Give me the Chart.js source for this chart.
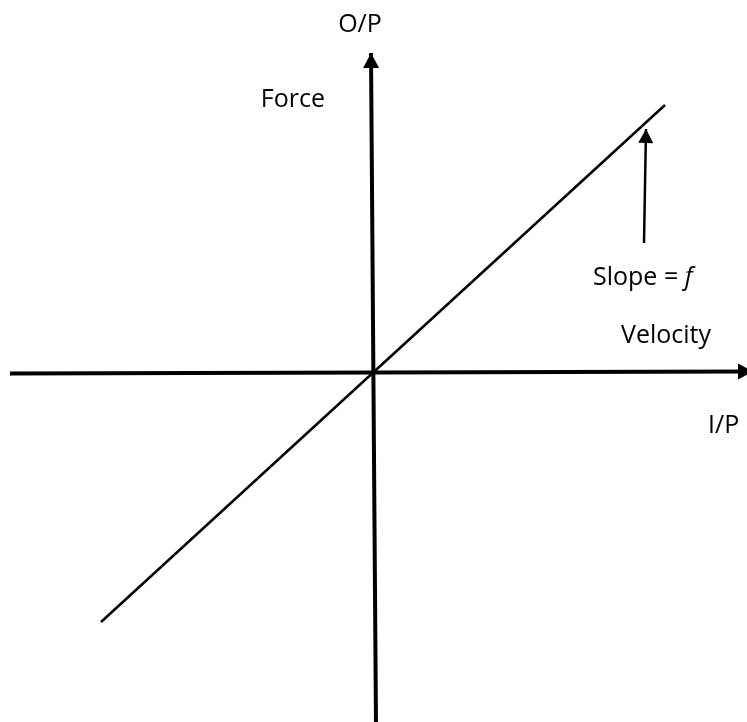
<!DOCTYPE html>
<html>
<head>
<meta charset="utf-8">
<script src="https://cdn.jsdelivr.net/npm/chart.js@4"></script>
<style>
  html, body { margin: 0; padding: 0; background: #ffffff; }
  #wrap { width: 747px; height: 722px; position: relative; }
</style>
</head>
<body>
<div id="wrap"><canvas id="c"></canvas></div>
<script>
// ---- Data (diagram units, origin at the axes crossing) ----
const inputAxisX  = [-363, 380];      // I/P axis (horizontal)
const inputAxisY  = [-0.5, 1.5];
const outputAxisX = [3, -2];          // O/P axis (vertical)
const outputAxisY = [-352, 320];
const velocity    = [-272, 292];      // input (velocity)
const force       = [-249, 268];      // output (force), slope = f
const pointerX    = [271, 273];       // pointer arrow to the line
const pointerY    = [130, 244];

const labelTexts  = ['O/P', 'Force', 'Slope = ', 'f', 'Velocity', 'I/P'];

function pts(xs, ys) { return xs.map((x, i) => ({ x: x, y: ys[i] })); }

const arrowPlugin = {
  id: 'arrowheads',
  afterDatasetsDraw(chart) {
    const ctx = chart.ctx;
    chart.data.datasets.forEach((ds, i) => {
      if (!ds.arrow) return;
      const meta = chart.getDatasetMeta(i);
      const n = meta.data.length;
      const a = meta.data[n - 2], b = meta.data[n - 1];
      const ang = Math.atan2(b.y - a.y, b.x - a.x);
      const L = ds.arrow.len, W = ds.arrow.half;
      ctx.save();
      ctx.translate(b.x, b.y);
      ctx.rotate(ang);
      ctx.beginPath();
      ctx.moveTo(0, 0);
      ctx.lineTo(-L, -W);
      ctx.lineTo(-L, W);
      ctx.closePath();
      ctx.fillStyle = '#000';
      ctx.fill();
      ctx.restore();
    });
  }
};

const labelPlugin = {
  id: 'labels',
  afterDraw(chart) {
    const ctx = chart.ctx;
    const sx = chart.scales.x, sy = chart.scales.y;
    const font = '25px "Open Sans", "Liberation Sans", sans-serif';
    const italic = 'italic 25px "Open Sans", "Liberation Sans", sans-serif';
    ctx.save();
    ctx.fillStyle = '#000';
    ctx.textBaseline = 'alphabetic';
    ctx.font = font;
    // O/P
    ctx.textAlign = 'center';
    ctx.fillText(labelTexts[0], sx.getPixelForValue(-13), sy.getPixelForValue(341));
    // Force
    ctx.textAlign = 'right';
    ctx.fillText(labelTexts[1], sx.getPixelForValue(-48), sy.getPixelForValue(266));
    // Slope = f
    ctx.textAlign = 'left';
    const sxp = sx.getPixelForValue(220), syp = sy.getPixelForValue(88);
    ctx.fillText(labelTexts[2], sxp, syp);
    const w = ctx.measureText(labelTexts[2]).width;
    ctx.font = italic;
    ctx.fillText(labelTexts[3], sxp + w, syp);
    ctx.font = font;
    // Velocity
    ctx.fillText(labelTexts[4], sx.getPixelForValue(248), sy.getPixelForValue(30));
    // I/P
    ctx.fillText(labelTexts[5], sx.getPixelForValue(335), sy.getPixelForValue(-60));
    ctx.restore();
  }
};

new Chart(document.getElementById('c'), {
  type: 'scatter',
  data: {
    datasets: [
      { data: pts(inputAxisX, inputAxisY), showLine: true, borderColor: '#000', borderWidth: 4,
        pointRadius: 0, arrow: { len: 15, half: 8 } },
      { data: pts(outputAxisX, outputAxisY), showLine: true, borderColor: '#000', borderWidth: 4,
        pointRadius: 0, arrow: { len: 15, half: 8 } },
      { data: pts(velocity, force), showLine: true, borderColor: '#000', borderWidth: 2.5,
        pointRadius: 0 },
      { data: pts(pointerX, pointerY), showLine: true, borderColor: '#000', borderWidth: 2.5,
        pointRadius: 0, arrow: { len: 14, half: 7.5 } }
    ]
  },
  options: {
    responsive: true,
    maintainAspectRatio: false,
    animation: false,
    layout: { padding: 0 },
    clip: false,
    plugins: { legend: { display: false }, tooltip: { enabled: false } },
    scales: {
      x: { type: 'linear', display: false, min: -373, max: 374 },
      y: { type: 'linear', display: false, min: -349, max: 373 }
    }
  },
  plugins: [arrowPlugin, labelPlugin]
});
</script>
</body>
</html>
